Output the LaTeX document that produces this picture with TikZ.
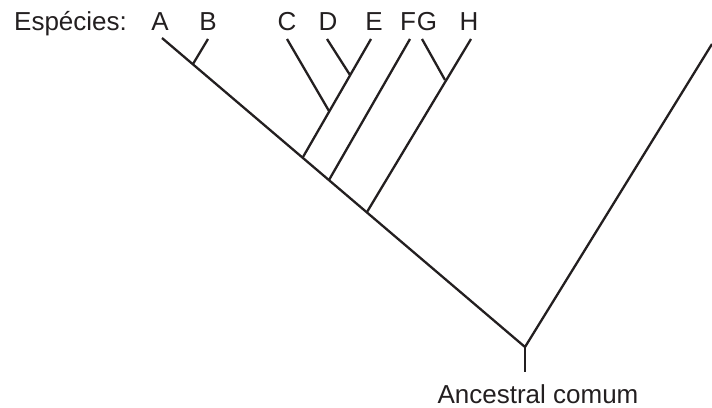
\documentclass[tikz,border=0pt]{standalone}
\usepackage{fontspec}
\setmainfont{Liberation Sans}
\usepackage{xcolor}
\definecolor{ink}{RGB}{35,31,32}
\usepackage{tikz}
\usetikzlibrary{positioning,calc}

\begin{document}
\begin{tikzpicture}[x=1pt,y=-1pt,
        branch/.style={draw=ink,line width=2.3pt},
        every node/.style={text=ink,inner sep=0pt,font=\fontsize{26}{30}\selectfont}]
        \useasboundingbox (0,0) rectangle (712,407);
        % labels
        \node[anchor=base west] (esp) at (14,30) {Espécies:};
        \foreach \n/\x in {A/160,B/208,C/287,D/328,E/374,F/408,G/427,H/469}
            \node[anchor=base] (\n) at (\x,30) {\n};
        \node[anchor=base] (anc) at (538,403) {Ancestral comum};
        % tips and joins
        \coordinate (tA) at (162,38);
        \coordinate (tB) at (208,39);
        \coordinate (tC) at (287,39);
        \coordinate (tD) at (327,39);
        \coordinate (tE) at (371,39);
        \coordinate (tF) at (410,39);
        \coordinate (tG) at (422,39);
        \coordinate (tH) at (471,39);
        \coordinate (tR) at (712,44);
        \coordinate (root) at (525,347);
        \coordinate (base) at (525,372);
        \coordinate (jB) at (193,64);
        \coordinate (jDE) at (350,75);
        \coordinate (jC) at (329,111);
        \coordinate (jCDE) at (303,157);
        \coordinate (jF) at (329,180);
        \coordinate (jGH) at (445,80);
        \coordinate (jH) at (367,212);
        % tree
        \draw[branch] (tA) -- (root) -- (tR);
        \draw[branch] (root) -- (base);
        \draw[branch] (tB) -- (jB);
        \draw[branch] (tE) -- (jCDE);
        \draw[branch] (tC) -- (jC);
        \draw[branch] (tD) -- (jDE);
        \draw[branch] (tF) -- (jF);
        \draw[branch] (tH) -- (jH);
        \draw[branch] (tG) -- (jGH);
\end{tikzpicture}
\end{document}
